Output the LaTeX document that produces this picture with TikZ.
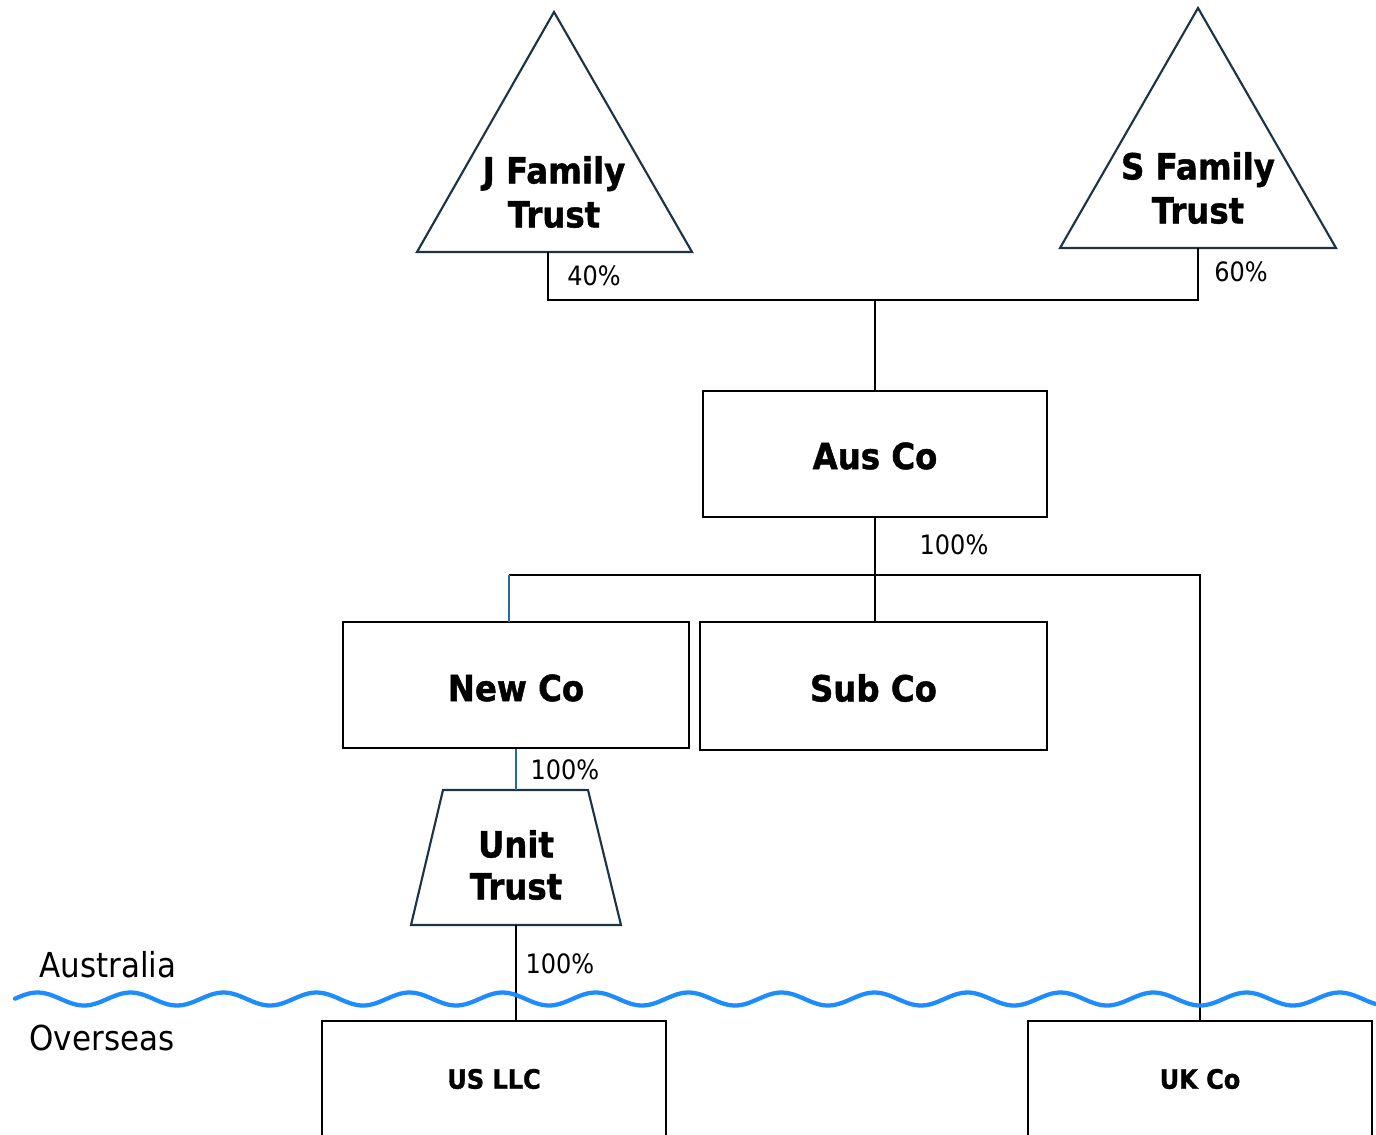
\documentclass[tikz,border=0pt]{standalone}
\usepackage{fontspec}
\setmainfont{DejaVu Sans}[FakeStretch=0.9,BoldFeatures={FakeBold=1.2}]
\definecolor{trustedge}{HTML}{1C3445}
\definecolor{bluelink}{HTML}{2A6A96}
\definecolor{sea}{HTML}{1E8CFF}
\begin{document}
\begin{tikzpicture}[x=0.75pt,y=-0.75pt,
  link/.style={draw=black,line width=1.5pt},
  bluelinkstyle/.style={draw=bluelink,line width=1.5pt},
  trustshape/.style={draw=trustedge,line width=1.6pt,line join=miter},
  entity/.style={draw=black,line width=1.6pt,rectangle,inner sep=0pt},
  bigtext/.style={font=\bfseries\fontsize{27}{33}\selectfont,align=center,inner sep=0pt},
  smalltext/.style={font=\bfseries\fontsize{20}{24}\selectfont,inner sep=0pt},
  pct/.style={font=\fontsize{20}{24}\selectfont,inner sep=0pt},
  region/.style={font=\fontsize{25.8}{30}\selectfont,inner sep=0pt}]
\useasboundingbox (0,0) rectangle (1376,1134);
\clip (0,0) rectangle (1376,1134);

% family trusts
\coordinate (japex) at (554,12);
\coordinate (jleft) at (417,252);
\coordinate (jright) at (692,252);
\draw[trustshape] (japex) -- (jright) -- (jleft) -- cycle;
\node[bigtext] (jtrust) at (554,192) {J Family\\Trust};

\coordinate (sapex) at (1198,8);
\coordinate (sleft) at (1060,248);
\coordinate (sright) at (1336,248);
\draw[trustshape] (sapex) -- (sright) -- (sleft) -- cycle;
\node[bigtext] (strust) at (1198,188) {S Family\\Trust};

% companies
\node[entity,minimum width=258pt,minimum height=94.5pt] (ausco) at (875,454) {};
\node[bigtext] (auslabel) at (875,456) {Aus Co};
\node[entity,minimum width=259.5pt,minimum height=94.5pt] (newco) at (516,685) {};
\node[bigtext] (newlabel) at (516,688) {New Co};
\node[entity,minimum width=260pt,minimum height=96pt] (subco) at (873.5,686) {};
\node[bigtext] (sublabel) at (873.5,688) {Sub Co};

% unit trust
\coordinate (uttl) at (443,790);
\coordinate (uttr) at (588,790);
\coordinate (utbr) at (621,925);
\coordinate (utbl) at (411,925);
\draw[trustshape] (uttl) -- (uttr) -- (utbr) -- (utbl) -- cycle;
\node[bigtext,font=\bfseries\fontsize{27}{31.5}\selectfont] (utlabel) at (516,865) {Unit\\Trust};
\coordinate (uttop) at (516,790);
\coordinate (utbot) at (516,925);

% overseas entities
\node[entity,minimum width=258pt,minimum height=150pt] (usllc) at (494,1121) {};
\node[smalltext] (uslabel) at (494,1079) {US LLC};
\node[entity,minimum width=258pt,minimum height=150pt] (ukco) at (1200,1121) {};
\node[smalltext] (uklabel) at (1200,1079) {UK Co};

% ownership links
\coordinate (jfoot) at (548,252);
\coordinate (sfoot) at (1198,248);
\coordinate (topbus) at (875,300);
\draw[link] (jfoot) |- (topbus) -| (sfoot);
\draw[link] (topbus) -- (ausco.north);

\coordinate (midbus) at (875,575);
\coordinate (newtap) at (509,622);
\draw[link] (ausco.south) -- (ausco.south |- subco.north);
\draw[link] (midbus) -- (newtap |- midbus);
\draw[bluelinkstyle] (newtap |- midbus) -- (newtap);
\draw[link] (midbus) -| (ukco.north);
\draw[bluelinkstyle] (newco.south) -- (uttop);
\draw[link] (utbot) -- (utbot |- usllc.north);

% percentages
\node[pct] (p40) at (594,276) {40\%};
\node[pct] (p60) at (1241,272) {60\%};
\node[pct] (pAus) at (954,545) {100\%};
\node[pct] (pNew) at (565,770) {100\%};
\node[pct] (pUnit) at (560,964) {100\%};

% border line between Australia and overseas
\draw[sea,line width=3.2pt,line cap=round] plot[domain=15:1376,samples=400,smooth] (\x,{999+6.5*cos(3.871*(\x-1200))});
\node[region] (aus) at (108,965) {Australia};
\node[region] (overseas) at (102,1038) {Overseas};
\end{tikzpicture}
\end{document}
